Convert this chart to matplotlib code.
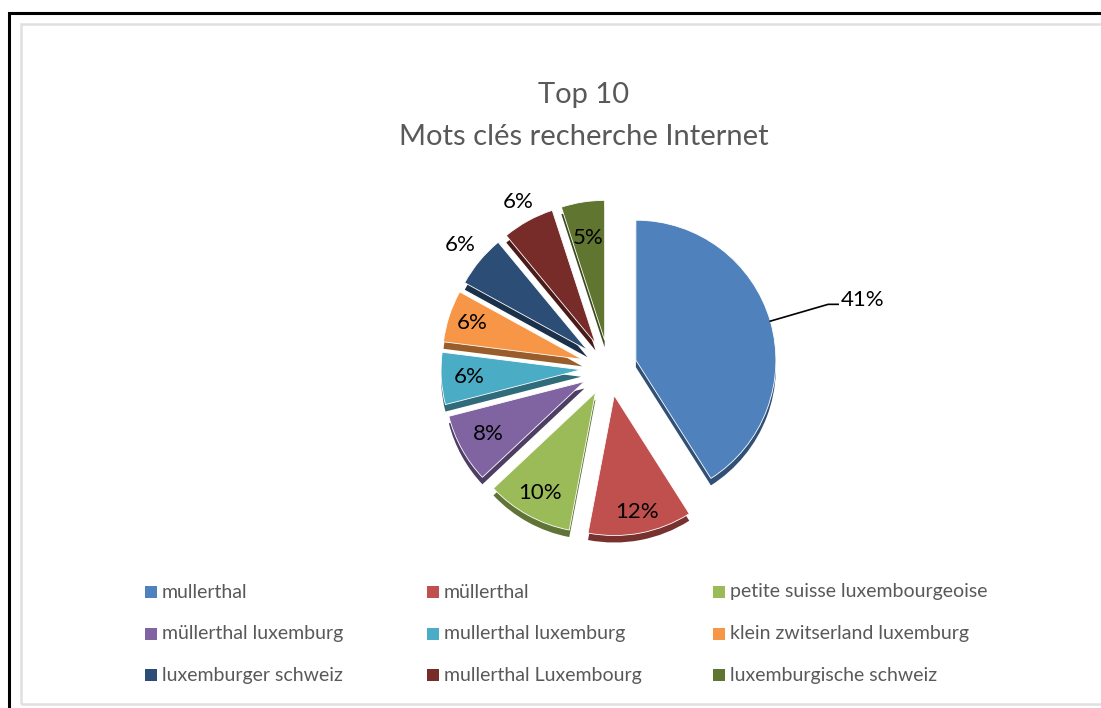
import numpy as np
import matplotlib
matplotlib.use("Agg")
import matplotlib.pyplot as plt
from matplotlib.colors import to_rgb
from matplotlib.patches import Rectangle

plt.rcParams["font.family"] = ["Lato", "DejaVu Sans"]

# -----------------------------
# Data
# -----------------------------
labels = [
    "mullerthal",
    "müllerthal",
    "petite suisse luxembourgeoise",
    "müllerthal luxemburg",
    "mullerthal luxemburg",
    "klein zwitserland luxemburg",
    "luxemburger schweiz",
    "mullerthal Luxembourg",
    "luxemburgische schweiz",
]
shares = [41, 12, 10, 8, 6, 6, 6, 6, 5]
colors = [
    "#4F81BD", "#C0504D", "#9BBB59", "#8064A2", "#4BACC6",
    "#F79646", "#2C4D75", "#772C2A", "#5F7530",
]
# radial position of each percentage label (fraction of radius)
label_dist = [1.0, 0.85, 0.82, 0.78, 0.8, 0.83, 1.18, 1.15, 0.74]

W, H = 1101, 708

fig = plt.figure(figsize=(W / 100, H / 100), dpi=100)
ax = fig.add_axes([0, 0, 1, 1])

# -----------------------------
# Pie (with a darker "side" underneath for depth)
# -----------------------------
cx, cy, r = 609, H - 368, 140
# matplotlib explode is in data units, so scale by the radius
explode = [0.2 * r] * len(shares)

dark = [tuple(c * 0.62 for c in to_rgb(col)) for col in colors]

ax.pie(shares, colors=dark, startangle=90, counterclock=False,
       explode=explode, radius=r, center=(cx, cy - 7),
       wedgeprops=dict(lw=0), frame=True)
wedges, _ = ax.pie(shares, colors=colors, startangle=90,
                   counterclock=False, explode=explode, radius=r,
                   center=(cx, cy), wedgeprops=dict(lw=0.6, ec="white"),
                   frame=True)

ax.set_xlim(0, W)
ax.set_ylim(0, H)
ax.set_aspect("equal")
ax.axis("off")

for i, w in enumerate(wedges):
    ang = np.deg2rad((w.theta1 + w.theta2) / 2)
    wx, wy = w.center
    txt = f"{shares[i]}%"
    if i == 0:
        # leader line for the big slice
        x0 = wx + r * np.cos(ang)
        y0 = wy + r * np.sin(ang)
        x1 = wx + 1.43 * r * np.cos(ang)
        y1 = wy + 1.43 * r * np.sin(ang)
        ax.plot([x0, x1, x1 + 10], [y0, y1, y1], color="black", lw=1.2)
        ax.text(x1 + 13, y1 + 4, txt, ha="left", va="center",
                fontsize=16, color="black")
    else:
        d = label_dist[i] * r
        ax.text(wx + d * np.cos(ang), wy + d * np.sin(ang), txt,
                ha="center", va="center", fontsize=16, color="black")

# -----------------------------
# Frames
# -----------------------------
ax.add_patch(Rectangle((8.5, -10), W + 20, H - 12.5 + 10,
                       fill=False, lw=2.2, ec="black"))
ax.add_patch(Rectangle((21, H - 704), W + 20, 704 - 24,
                       fill=False, lw=1.8, ec="#E0E0E0"))

# -----------------------------
# Title
# -----------------------------
title_col = "#595959"
ax.text(584, H - 95, "Top 10", ha="center", va="center",
        fontsize=21, color=title_col)
ax.text(584, H - 137, "Mots clés recherche Internet", ha="center",
        va="center", fontsize=21, color=title_col)

# -----------------------------
# Legend (3 columns, row-major like Excel)
# -----------------------------
col_x = [145, 427, 713]
row_y = [592, 634, 675]
for i, lab in enumerate(labels):
    x = col_x[i % 3]
    y = H - row_y[i // 3]
    ax.add_patch(Rectangle((x, y - 6), 12, 12, fc=colors[i], ec="none"))
    ax.text(x + 17, y, lab, ha="left", va="center", fontsize=14,
            color="#595959")

fig.savefig("out.png", dpi=100)
